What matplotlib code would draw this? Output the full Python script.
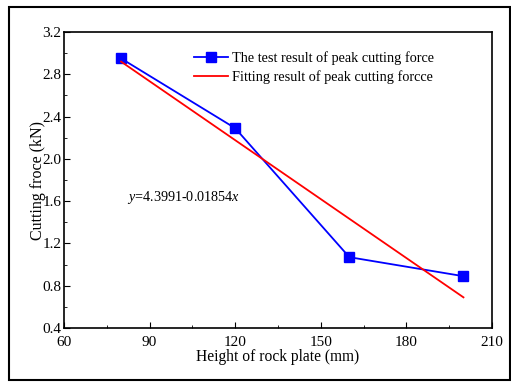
import matplotlib
matplotlib.use('Agg')
import matplotlib.pyplot as plt
from matplotlib.ticker import MultipleLocator, FormatStrFormatter
from matplotlib.patches import Rectangle

# данные
heights = [80, 120, 160, 200]
test_force = [2.95, 2.29, 1.07, 0.89]
fit_x = [80, 200]
fit_force = [2.92, 0.69]

plt.rcParams['font.family'] = ['Liberation Serif', 'DejaVu Serif']
plt.rcParams['mathtext.fontset'] = 'custom'
plt.rcParams['mathtext.it'] = 'Liberation Serif:italic'
plt.rcParams['mathtext.rm'] = 'Liberation Serif'

fig = plt.figure(figsize=(5.11, 3.82), dpi=100)
ax = fig.add_axes([64 / 511, 1 - 328 / 382, 428 / 511, 296 / 382])

# внешняя рамка
fig.patches.append(Rectangle((9 / 511, 2 / 382), 501 / 511, 373 / 382,
                             transform=fig.transFigure, fill=False,
                             edgecolor='black', linewidth=1.5))

ax.plot(heights, test_force, color='blue', marker='s', markersize=7, linewidth=1.3,
        label='The test result of peak cutting force')
ax.plot(fit_x, fit_force, color='red', linewidth=1.3,
        label='Fitting result of peak cutting forcce')

ax.set_xlim(60, 210)
ax.set_ylim(0.4, 3.2)
ax.xaxis.set_major_locator(MultipleLocator(30))
ax.xaxis.set_minor_locator(MultipleLocator(15))
ax.yaxis.set_major_locator(MultipleLocator(0.4))
ax.yaxis.set_minor_locator(MultipleLocator(0.2))
ax.tick_params(which='both', direction='in', labelsize=11)
ax.tick_params(axis='x', pad=6)
ax.tick_params(axis='y', pad=2)
ax.tick_params(which='major', length=4)
ax.tick_params(which='minor', length=2)
ax.yaxis.set_major_formatter(FormatStrFormatter('%.1f'))
for s in ax.spines.values():
    s.set_linewidth(1.2)

ax.set_xlabel('Height of rock plate (mm)', fontsize=11.2, labelpad=0)
ax.set_ylabel('Cutting froce (kN)', fontsize=11.5, labelpad=-3)

ax.text(0.147, 0.43, '$y$=4.3991-0.01854$x$', transform=ax.transAxes, fontsize=10.2)

ax.legend(loc='upper left', bbox_to_anchor=(0.29, 0.955), frameon=False,
          fontsize=10.3, handlelength=2.4, handletextpad=0.3, labelspacing=0.35,
          borderaxespad=0)

plt.savefig('out.png', dpi=100)
plt.close()
